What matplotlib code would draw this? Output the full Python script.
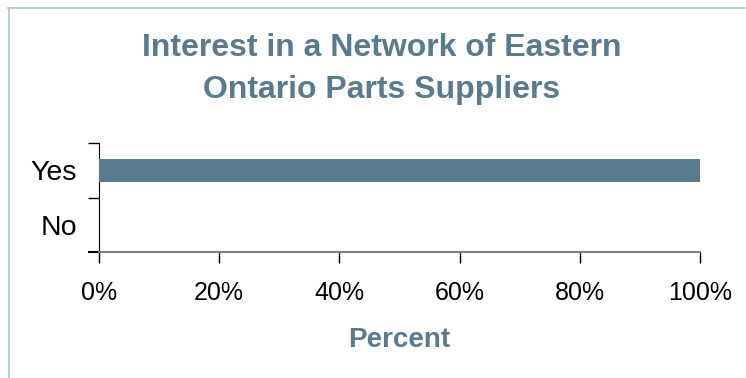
import matplotlib.pyplot as plt
from matplotlib.lines import Line2D
from matplotlib.ticker import FixedLocator, PercentFormatter

plt.rcParams["font.family"] = ["Liberation Sans", "DejaVu Sans"]

# Survey responses
categories = ["No", "Yes"]
percent = [0, 100]
x_ticks = [0, 20, 40, 60, 80, 100]

TITLE = "Interest in a Network of Eastern\nOntario Parts Suppliers"
BLUE = "#587b90"
FRAME = "#aec4d1"
AXIS_GREY = "#808080"

fig = plt.figure(figsize=(7.46, 3.78), dpi=100)
ax = fig.add_axes([99 / 746, 126 / 378, 601 / 746, 109 / 378])

ypos = list(range(len(categories)))
ax.barh(ypos, percent, height=0.42, color=BLUE, zorder=3)

ax.set_xlim(0, 100)
ax.set_ylim(-0.5, len(categories) - 0.5)

ax.set_xticks(x_ticks)
ax.xaxis.set_major_formatter(PercentFormatter(decimals=0))
ax.tick_params(axis="x", direction="out", length=8, width=1, color="black",
               labelsize=18, pad=13)

# category labels sit between the tick marks
ax.set_yticks(ypos)
ax.set_yticklabels(categories)
ax.tick_params(axis="y", which="major", length=0, labelsize=20.5, pad=16)
ax.yaxis.set_minor_locator(FixedLocator([-0.5, 0.5, 1.5]))
ax.tick_params(axis="y", which="minor", direction="out", length=8, width=1,
               color="black")
# the lowest tick continues the grey category axis
ax.yaxis.get_minor_ticks()[0].tick1line.set_color(AXIS_GREY)
ax.yaxis.get_minor_ticks()[0].tick1line.set_markeredgewidth(1.5)

for side in ("top", "right"):
    ax.spines[side].set_visible(False)
ax.spines["left"].set_color("black")
ax.spines["bottom"].set_color(AXIS_GREY)
ax.spines["bottom"].set_linewidth(1.5)

ax.set_xlabel("Percent", fontsize=20, fontweight="bold", color=BLUE,
              labelpad=16)

fig.text(382 / 746, 1 - 33 / 378, TITLE, ha="center", va="top",
         fontsize=23, fontweight="bold", color=BLUE, linespacing=1.53)

# thin panel frame on the top and left edges
fig.add_artist(Line2D([8 / 746, 745 / 746], [1 - 7.5 / 378, 1 - 7.5 / 378],
                      transform=fig.transFigure, color=FRAME, lw=1.2))
fig.add_artist(Line2D([8.5 / 746, 8.5 / 746], [0, 1 - 7.5 / 378],
                      transform=fig.transFigure, color=FRAME, lw=1.2))

fig.savefig("out.png", dpi=100)
